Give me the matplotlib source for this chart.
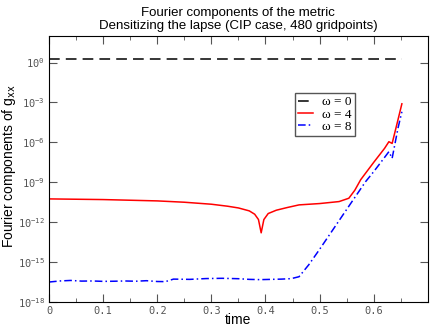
import matplotlib
matplotlib.use("Agg")
import matplotlib.pyplot as plt
import matplotlib.ticker as mticker
import numpy as np

# omega = 0 (flat)
t_w0 = [0.0, 0.652]
log_w0 = [0.28, 0.28]

# omega = 4
t_w4 = [0.0, 0.1, 0.2, 0.25, 0.3, 0.33, 0.35, 0.37, 0.38, 0.387, 0.392, 0.397,
        0.405, 0.42, 0.44, 0.462, 0.5, 0.536, 0.554, 0.565, 0.576, 0.6, 0.62,
        0.628, 0.634, 0.643, 0.652]
log_w4 = [-10.25, -10.3, -10.4, -10.5, -10.65, -10.8, -10.93, -11.15, -11.4, -11.8,
          -12.8, -11.8, -11.35, -11.1, -10.9, -10.7, -10.6, -10.45, -10.2, -9.6,
          -8.8, -7.5, -6.45, -5.95, -6.08, -4.6, -3.1]

# omega = 8
t_w8 = [0.0, 0.02, 0.04, 0.06, 0.08, 0.1, 0.12, 0.14, 0.16, 0.18, 0.2, 0.215,
        0.23, 0.26, 0.29, 0.32, 0.35, 0.37, 0.39, 0.41, 0.43, 0.445, 0.452,
        0.462, 0.48, 0.499, 0.524, 0.554, 0.585, 0.6, 0.615, 0.628, 0.634,
        0.645, 0.652]
log_w8 = [-16.5, -16.42, -16.38, -16.43, -16.42, -16.45, -16.44, -16.42, -16.44,
          -16.4, -16.46, -16.47, -16.28, -16.3, -16.24, -16.22, -16.25, -16.3,
          -16.32, -16.3, -16.28, -16.25, -16.2, -16.1, -15.2, -14.1, -12.6,
          -10.8, -8.95, -8.2, -7.4, -6.7, -7.2, -4.9, -3.7]

fig = plt.figure(figsize=(4.3, 3.27), dpi=100)
ax = fig.add_axes([0.114, 0.0765, 0.881, 0.8135])

ax.plot(t_w0, 10.0 ** np.array(log_w0), color="black", lw=1.1,
        dashes=(7, 4), label=r"ω = 0")
ax.plot(t_w4, 10.0 ** np.array(log_w4), color="#ff0000", lw=1.1, label=r"ω = 4")
ax.plot(t_w8, 10.0 ** np.array(log_w8), color="#0000ff", lw=1.1,
        dashes=(5, 2, 1, 2), label=r"ω = 8")

ax.set_yscale("log")
ax.set_xlim(0, 0.7)
ax.set_ylim(1e-18, 1e2)

ax.xaxis.set_major_locator(mticker.FixedLocator([0, 0.1, 0.2, 0.3, 0.4, 0.5, 0.6]))
ax.xaxis.set_minor_locator(mticker.MultipleLocator(0.05))
ax.xaxis.set_major_formatter(mticker.FuncFormatter(lambda v, p: "0" if v == 0 else "%.1f" % v))

yt = [10.0 ** k for k in range(-18, 1, 3)]
ax.yaxis.set_major_locator(mticker.FixedLocator(yt))
ax.yaxis.set_minor_locator(mticker.NullLocator())
ax.yaxis.set_major_formatter(mticker.FuncFormatter(
    lambda v, p: r"$\mathtt{10^{%d}}$" % round(np.log10(v))))

ax.tick_params(which="both", direction="in", top=True, right=True,
               labelsize=7.5, labelcolor="#555555", color="#555555")
ax.tick_params(which="major", length=6)
ax.tick_params(which="minor", length=3)
ax.tick_params(axis="x", pad=3)
ax.tick_params(axis="y", pad=3)
for lab in ax.get_xticklabels():
    lab.set_family("DejaVu Sans Mono")

ax.set_xlabel("time", fontsize=10, family="Liberation Sans")
ax.xaxis.set_label_coords(0.5, -0.042)
ax.set_ylabel(r"Fourier components of g$_{\rm xx}$", fontsize=10,
              family="Liberation Sans")
ax.yaxis.set_label_coords(-0.083, 0.51)
ax.set_title("Fourier components of the metric\nDensitizing the lapse (CIP case, 480 gridpoints)",
             fontsize=9.5, family="Liberation Sans", pad=5, linespacing=1.1)

leg = ax.legend(loc="upper left", bbox_to_anchor=(0.649, 0.786), fancybox=False,
                prop={"family": "Liberation Serif", "size": 9.5},
                handlelength=1.1, handletextpad=0.7, borderpad=0.25,
                labelspacing=0.0, borderaxespad=0, framealpha=1)
leg.get_frame().set_edgecolor("#555555")

plt.savefig("out.png", dpi=100)
